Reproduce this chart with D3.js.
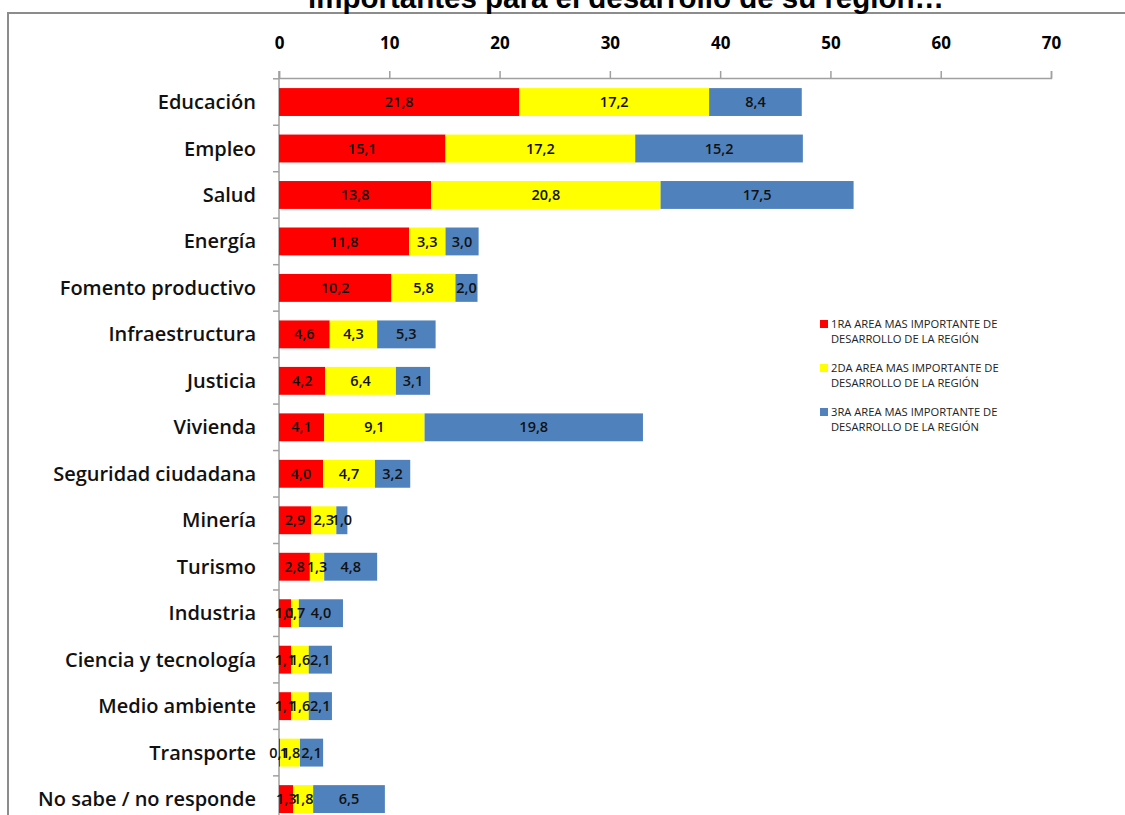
<!DOCTYPE html>
<html><head><meta charset="utf-8">
<script src="https://cdn.jsdelivr.net/npm/d3@7"></script>
<style>body{margin:0;background:#fff}svg{display:block}</style>
</head><body>
<script>
const categories = ["Educación","Empleo","Salud","Energía","Fomento productivo","Infraestructura","Justicia","Vivienda","Seguridad ciudadana","Minería","Turismo","Industria","Ciencia y tecnología","Medio ambiente","Transporte","No sabe / no responde"];
const primera = [21.8,15.1,13.8,11.8,10.2,4.6,4.2,4.1,4.0,2.9,2.8,1.1,1.1,1.1,0.1,1.3];
const segunda = [17.2,17.2,20.8,3.3,5.8,4.3,6.4,9.1,4.7,2.3,1.3,0.7,1.6,1.6,1.8,1.8];
const tercera = [8.4,15.2,17.5,3.0,2.0,5.3,3.1,19.8,3.2,1.0,4.8,4.0,2.1,2.1,2.1,6.5];
const seriesNames = ["1RA AREA MAS IMPORTANTE  DE|DESARROLLO DE LA REGIÓN","2DA AREA MAS IMPORTANTE DE|DESARROLLO DE LA REGIÓN","3RA AREA MAS IMPORTANTE  DE|DESARROLLO DE LA REGIÓN"];
const colors = ["#FF0000","#FFFF00","#4F81BD"];
const tickValues = [0,10,20,30,40,50,60,70];
const title = "importantes para el desarrollo de su región…";

const W=1125,H=815;
const svg=d3.select("body").append("svg").attr("width",W).attr("height",H);
// frame
svg.append("rect").attr("x",8).attr("y",13).attr("width",1130).attr("height",820)
  .attr("fill","none").attr("stroke","#8c8c8c").attr("stroke-width",2);
svg.append("text").attr("x",626).attr("y",8).attr("text-anchor","middle")
  .attr("font-family","Liberation Sans, Arial").attr("font-weight","bold").attr("font-size",29.5)
  .text(title);

const x=d3.scaleLinear().domain([0,70]).range([279,1051]);
const y=d3.scaleBand().domain(categories).range([78.8,78.8+16*46.47]).paddingInner(0.4).paddingOuter(0.2);

// top axis
const xa=svg.append("g").attr("transform","translate(0,78)")
  .call(d3.axisTop(x).tickValues(tickValues).tickSize(7).tickPadding(22).tickFormat(d3.format("d")));
xa.select(".domain").attr("stroke","#a0a0a0").attr("stroke-width",1.5);
xa.selectAll(".tick line").attr("stroke","#a0a0a0").attr("stroke-width",1.5);
xa.selectAll(".tick text").attr("font-family","Open Sans, sans-serif").attr("font-weight","bold").attr("font-size",17).attr("fill","#000");

// left axis line + ticks at band boundaries
svg.append("line").attr("x1",279).attr("x2",279).attr("y1",71).attr("y2",H)
  .attr("stroke","#a0a0a0").attr("stroke-width",1.5);
const step=y.step();
svg.selectAll(".ytick").data(d3.range(17)).enter().append("line")
  .attr("x1",273).attr("x2",279)
  .attr("y1",i=>78.8+i*step).attr("y2",i=>78.8+i*step)
  .attr("stroke","#a0a0a0").attr("stroke-width",1.5);

svg.selectAll(".cat").data(categories).enter().append("text")
  .attr("x",256).attr("y",d=>y(d)+y.bandwidth()/2).attr("dy","0.35em")
  .attr("text-anchor","end").attr("font-family","Open Sans, sans-serif").attr("font-size",20).attr("font-weight",600).attr("fill","#111")
  .text(d=>d);

const series=[primera,segunda,tercera];
const rows=categories.map((c,i)=>({c,v:series.map(s=>s[i])}));
const segs=[];
rows.forEach(r=>{let acc=0;r.v.forEach((v,k)=>{segs.push({c:r.c,k,v,x0:acc,x1:acc+v});acc+=v;});});

svg.selectAll(".seg").data(segs).enter().append("rect")
  .attr("x",d=>x(d.x0)).attr("y",d=>y(d.c)).attr("width",d=>x(d.x1)-x(d.x0)).attr("height",y.bandwidth())
  .attr("fill",d=>colors[d.k]);

const fmt=v=>d3.format(".1f")(v).replace(".",",");
svg.selectAll(".lab").data(segs).enter().append("text")
  .attr("x",d=>(x(d.x0)+x(d.x1))/2).attr("y",d=>y(d.c)+y.bandwidth()/2).attr("dy","0.35em")
  .attr("text-anchor","middle").attr("font-family","Open Sans, sans-serif").attr("font-size",14.5)
  .attr("font-weight",600).attr("fill","#111")
  .text(d=>fmt(d.v));

// legend
const lg=svg.append("g");
seriesNames.forEach((n,i)=>{
  const yy=324+i*44;
  lg.append("rect").attr("x",820).attr("y",yy-4).attr("width",8).attr("height",8).attr("fill",colors[i]);
  n.split("|").forEach((line,j)=>{
    lg.append("text").attr("x",831).attr("y",yy+j*15).attr("dy","0.35em")
      .attr("font-family","Open Sans, sans-serif").attr("font-size",11.2).attr("fill","#222").text(line);
  });
});
</script>
</body></html>
